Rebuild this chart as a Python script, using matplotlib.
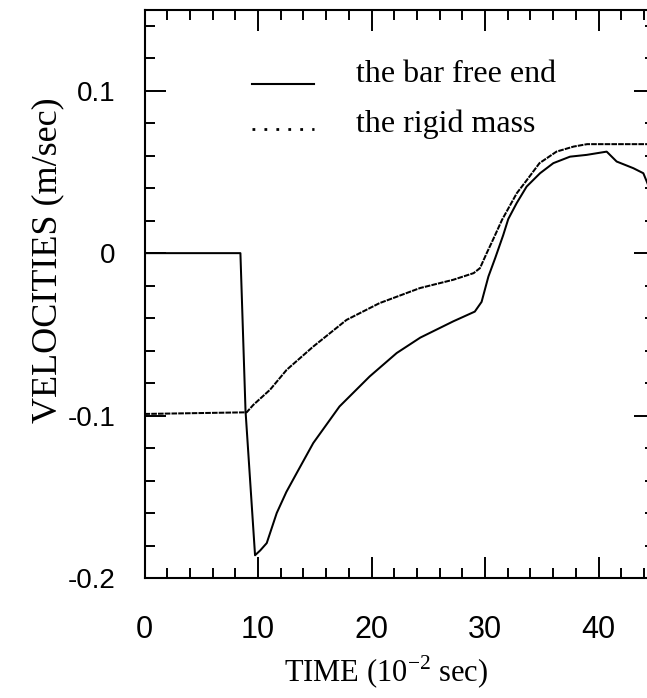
import matplotlib
matplotlib.use("Agg")
import matplotlib.pyplot as plt
from matplotlib.lines import Line2D
from matplotlib.legend_handler import HandlerLine2D
from matplotlib.ticker import MultipleLocator, FixedFormatter, FixedLocator

# ---- data ----
t_bar = [0, 8.45, 8.9, 9.74, 10.2, 10.77, 11.65, 12.5, 13.41, 14.87, 17.18, 19.84,
         22.22, 24.3, 27.2, 29.1, 29.7, 30.3, 30.9, 31.6, 32.05, 32.79, 33.67,
         34.85, 36.02, 37.49, 38.96, 40.72, 41.6, 43.07, 43.95, 44.25, 44.6]
v_bar = [0, 0, -0.097, -0.186, -0.183, -0.1785, -0.160, -0.147, -0.1354, -0.1169,
         -0.0944, -0.0759, -0.0615, -0.052, -0.042, -0.036, -0.030, -0.0144,
         -0.003, 0.011, 0.021, 0.0308, 0.041, 0.0492, 0.0554, 0.0594, 0.0605,
         0.0625, 0.0564, 0.0523, 0.0492, 0.0441, 0.038]

t_mass = [0, 9.0, 9.59, 11.06, 12.53, 14.87, 17.8, 20.7, 24.27, 27.2, 29.0, 29.56,
          30.15, 30.7, 31.5, 32.8, 33.7, 34.8, 36.3, 37.8, 39.0, 45]
v_mass = [-0.099, -0.098, -0.0934, -0.0841, -0.0718, -0.0575, -0.0411, -0.0308,
          -0.0215, -0.0164, -0.0123, -0.0092, 0.0, 0.0082, 0.0205, 0.0369, 0.0451,
          0.0554, 0.0625, 0.0656, 0.0671, 0.0671]

x_ticks = [0, 10, 20, 30, 40]
x_ticklabels = ["0", "10", "20", "30", "40"]
y_ticks = [-0.2, -0.1, 0, 0.1]
y_ticklabels = ["-0.2", "-0.1", "0", "0.1"]

label_bar = "the bar free end"
label_mass = "the rigid mass"
xlabel = r"TIME (10$^{\mathregular{-2}}$ sec)"
ylabel = "VELOCITIES (m/sec)"


class ShiftedLineHandler(HandlerLine2D):
    """Legend line drawn a little below the text centre, as in the original."""
    def __init__(self, dy, **kw):
        super().__init__(**kw)
        self.dy = dy

    def create_artists(self, legend, orig_handle, xdescent, ydescent, width, height,
                       fontsize, trans):
        return super().create_artists(legend, orig_handle, xdescent, ydescent + 2 * self.dy,
                                      width, height, fontsize, trans)


# ---- figure ----
W, H = 647, 698
fig = plt.figure(figsize=(W / 100, H / 100), dpi=100)
left, right, bottom, top = 144.5, 655.25, 578.0, 9.5
ax = fig.add_axes([left / W, 1 - bottom / H, (right - left) / W, (bottom - top) / H])

ax.plot(t_bar, v_bar, color="black", lw=1.45, solid_joinstyle="round")
ax.plot(t_mass, v_mass, color="black", lw=1.45, linestyle=(0, (2.8, 0.55)))

ax.set_xlim(0, 45)
ax.set_ylim(-0.2, 0.15)

ax.xaxis.set_major_locator(FixedLocator(x_ticks))
ax.xaxis.set_major_formatter(FixedFormatter(x_ticklabels))
ax.yaxis.set_major_locator(FixedLocator(y_ticks))
ax.yaxis.set_major_formatter(FixedFormatter(y_ticklabels))
ax.xaxis.set_minor_locator(MultipleLocator(2))
ax.yaxis.set_minor_locator(MultipleLocator(0.02))

for sp in ax.spines.values():
    sp.set_linewidth(1.5)

ax.tick_params(which="both", direction="in", top=True, right=True, width=1.4)
ax.tick_params(which="major", length=15)
ax.tick_params(which="minor", length=7.5)
ax.tick_params(axis="y", which="major", pad=21, labelsize=20)
ax.tick_params(axis="x", which="major", pad=27, labelsize=22)
for lab in ax.get_xticklabels() + ax.get_yticklabels():
    lab.set_family(["Liberation Sans", "DejaVu Sans"])

ax.set_xlabel(xlabel, family=["Liberation Serif", "DejaVu Serif"], fontsize=22)
ax.xaxis.set_label_coords(0.4728, -0.1653)
ax.xaxis.label.set_va("center")
ax.set_ylabel(ylabel, family=["Liberation Serif", "DejaVu Serif"], fontsize=26)
ax.yaxis.set_label_coords(-0.189, 0.559)
ax.yaxis.label.set_va("center")

h_bar = Line2D([], [], color="black", lw=1.5)
h_mass = Line2D([], [], color="black", lw=2.0, linestyle=(0, (1, 3.3)))
leg = ax.legend([h_bar, h_mass], [label_bar, label_mass], loc="upper left",
                bbox_to_anchor=(251.7 / W, 1 - 60 / H), bbox_transform=fig.transFigure,
                frameon=False, borderpad=0, borderaxespad=0, handlelength=1.95,
                handletextpad=1.3, labelspacing=0.62,
                handler_map={h_bar: ShiftedLineHandler(9.5),
                             h_mass: ShiftedLineHandler(6.0)},
                prop={"family": ["Liberation Serif", "DejaVu Serif"], "size": 23})

fig.savefig("out.png", dpi=100)
